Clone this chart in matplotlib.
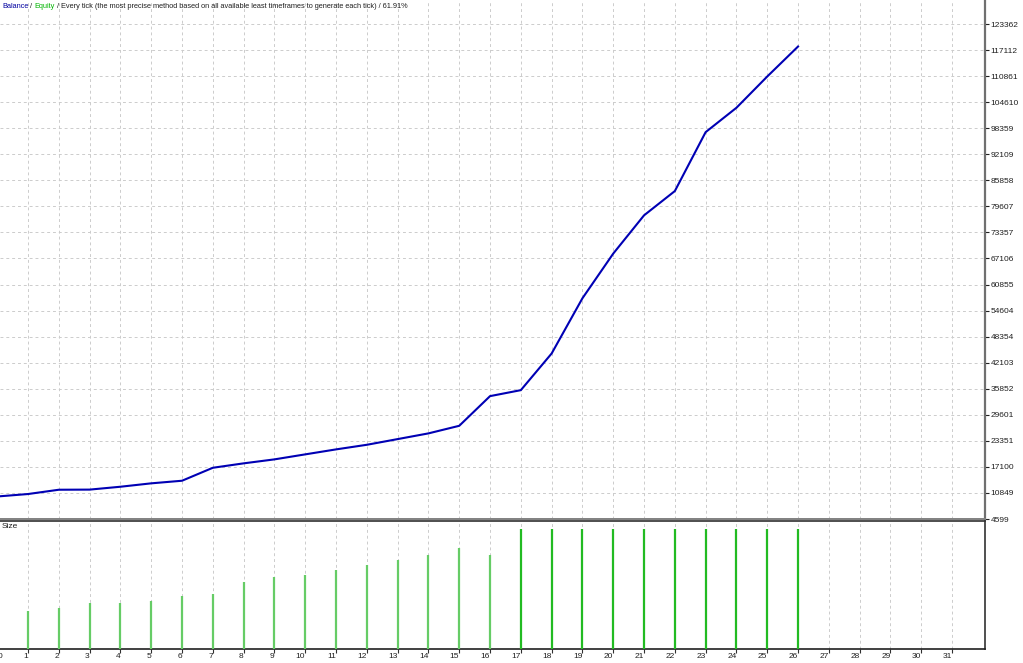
import numpy as np
import matplotlib
matplotlib.use("Agg")
import matplotlib.pyplot as plt

# balance after each trade (trade number -> balance)
trades = list(range(27))
balance = [10000, 10590, 11620, 11650, 12340, 13155, 13780, 16890, 17950, 18905,
           20105, 21300, 22405, 23770, 25140, 26960, 34080, 35515, 44310, 57560,
           68280, 77455, 83280, 97420, 103265, 110765, 117960]

# lot size per trade
size_x = list(range(1, 27))
lots = [1.6, 1.7, 1.9, 1.9, 2.0, 2.2, 2.3, 2.8, 3.0, 3.1, 3.3, 3.5, 3.7, 3.9, 4.2, 3.9,
        5.0, 5.0, 5.0, 5.0, 5.0, 5.0, 5.0, 5.0, 5.0, 5.0]

ytick_vals = [4599, 10849, 17100, 23351, 29601, 35852, 42103, 48354, 54604, 60855,
              67106, 73357, 79607, 85858, 92109, 98359, 104610, 110861, 117112, 123362]
xtick_vals = list(range(1, 32))

plt.rcParams['font.family'] = ['Liberation Sans', 'DejaVu Sans']
fs = 6

W, H = 1023, 663
fig = plt.figure(figsize=(W / 100, H / 100), dpi=100)
fig.patch.set_facecolor('white')

right = 985 / W
ax = fig.add_axes([0, (H - 519) / H, right, 519 / H])
ax2 = fig.add_axes([0, (H - 649) / H, right, 128 / H])

xlo, xhi = 0.09, 32.07
grid_kw = dict(color='#cccccc', linestyle=(0, (3, 3)), linewidth=0.7)

# main panel
ax.plot(trades, balance, color='#0000b4', linewidth=1.5, zorder=3)
ax.set_xlim(xlo, xhi)
ax.set_ylim(4599, 129121)
ax.set_yticks(ytick_vals)
ax.set_yticklabels([str(v) for v in ytick_vals])
ax.yaxis.tick_right()
ax.tick_params(axis='y', labelsize=fs, length=3, width=0.8, pad=1, colors='#202020')
ax.set_xticks(xtick_vals)
ax.tick_params(axis='x', length=0, labelbottom=False)
for v in ytick_vals:
    ax.axhline(v, zorder=0, **grid_kw)
for v in xtick_vals:
    ax.axvline(v, zorder=0, **grid_kw)
for s in ['top', 'left']:
    ax.spines[s].set_visible(False)
ax.spines['right'].set_color('#707070')
ax.spines['right'].set_linewidth(1.6)
ax.spines['bottom'].set_color('#808080')
ax.spines['bottom'].set_linewidth(1.4)

# title with coloured parts
parts = [("Balance", '#0000a0'), (" / ", '#202020'), ("Equity", '#00b400'),
         (" / Every tick (the most precise method based on all available least timeframes to generate each tick) / 61.91%", '#202020')]
fig.canvas.draw()
renderer = fig.canvas.get_renderer()
xpos = 2
for txt, col in parts:
    t = fig.text(xpos / W, 1 - 6 / H, txt, color=col, fontsize=5.3, va='center', ha='left')
    bb = t.get_window_extent(renderer=renderer)
    xpos += bb.width

# size panel
colors = ['#66cc66' if i < 16 else '#22bb22' for i in range(len(lots))]
ax2.vlines(size_x, 0, lots, colors=colors, linewidth=1.6, zorder=3)
ax2.set_xlim(xlo, xhi)
ax2.set_ylim(0, 5.0 * 128 / 120)
ax2.set_yticks([])
ax2.set_xticks(xtick_vals)
ax2.set_xticklabels([])
ax2.tick_params(axis='x', length=3, width=0.8, colors='#303030')
for v in xtick_vals:
    ax2.axvline(v, zorder=0, **grid_kw)
ax2.spines['left'].set_visible(False)
ax2.spines['top'].set_color('#303030')
ax2.spines['top'].set_linewidth(1.2)
ax2.spines['right'].set_color('#505050')
ax2.spines['right'].set_linewidth(1.4)
ax2.spines['bottom'].set_color('#202020')
ax2.spines['bottom'].set_linewidth(1.2)
ax2.text(2 / (right * W), 1 - 6 / 128, "Size", transform=ax2.transAxes, fontsize=fs,
         va='center', ha='left', color='#202020')

# x labels sit just left of their tick
for v in xtick_vals:
    ax2.annotate(str(v), xy=(v, 0), xycoords=('data', 'axes fraction'),
                 xytext=(0, -7), textcoords='offset pixels',
                 ha='right', va='center', fontsize=fs, color='#202020')
ax2.annotate("0", xy=(0, 0), xycoords='axes fraction', xytext=(-2, -7),
             textcoords='offset pixels', ha='left', va='center', fontsize=fs,
             color='#202020', annotation_clip=False)

fig.savefig("out.png", dpi=100, facecolor='white')
